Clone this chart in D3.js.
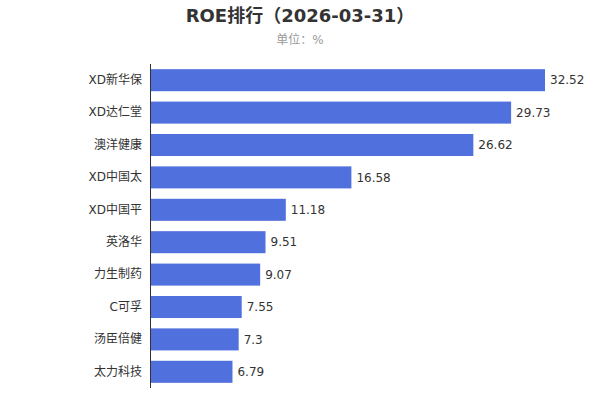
<!DOCTYPE html>
<html><head><meta charset="utf-8">
<script src="https://cdn.jsdelivr.net/npm/d3@7/dist/d3.min.js"></script>
<style>body{margin:0;background:#fff}svg{display:block;font-family:"DejaVu Sans","Noto Sans CJK SC",sans-serif}</style>
</head><body><svg id="c" width="600" height="400"></svg>
<script>
const categories = ["XD新华保","XD达仁堂","澳洋健康","XD中国太","XD中国平","英洛华","力生制药","C可孚","汤臣倍健","太力科技"];
const values = [32.52,29.73,26.62,16.58,11.18,9.51,9.07,7.55,7.3,6.79];
const valueLabels = ["32.52","29.73","26.62","16.58","11.18","9.51","9.07","7.55","7.3","6.79"];
const title = "ROE排行（2026-03-31）";
const subtitle = "单位：%";

const FONT = '"DejaVu Sans","Noto Sans CJK SC",sans-serif';
const svg = d3.select("#c");
const m = {left:150, top:64, bottom:388};
const x = d3.scaleLinear().domain([0, 32.52]).range([m.left, 545]);
const y = d3.scaleBand().domain(categories).range([m.top, m.bottom]).paddingInner(0.32).paddingOuter(0.16);

svg.append("text").attr("x",300).attr("y",22).attr("text-anchor","middle")
  .attr("font-size",18).attr("font-weight","bold").attr("fill","#333").text(title);
svg.append("text").attr("x",300).attr("y",44).attr("text-anchor","middle")
  .attr("font-size",12).attr("fill","#999").text(subtitle);

svg.selectAll("rect.bar").data(values).enter().append("rect").attr("class","bar")
  .attr("x", x(0)).attr("y",(d,i)=>y(categories[i])).attr("height",y.bandwidth())
  .attr("width", d=>x(d)-x(0)).attr("fill","#5070dd");

svg.selectAll("text.val").data(values).enter().append("text").attr("class","val")
  .attr("x", d=>x(d)+5).attr("y",(d,i)=>y(categories[i])+y.bandwidth()/2).attr("dy","0.35em")
  .attr("font-size",12).attr("fill","#333").text((d,i)=>valueLabels[i]);

const ax = svg.append("g").attr("transform",`translate(${m.left},0)`)
  .call(d3.axisLeft(y).tickSize(0).tickPadding(8));
ax.select(".domain").attr("stroke","#333").attr("d",`M0.5,${m.top}V${m.bottom}`);
ax.selectAll("text").attr("font-size",12).attr("fill","#333").style("font-family",FONT);
</script></body></html>
